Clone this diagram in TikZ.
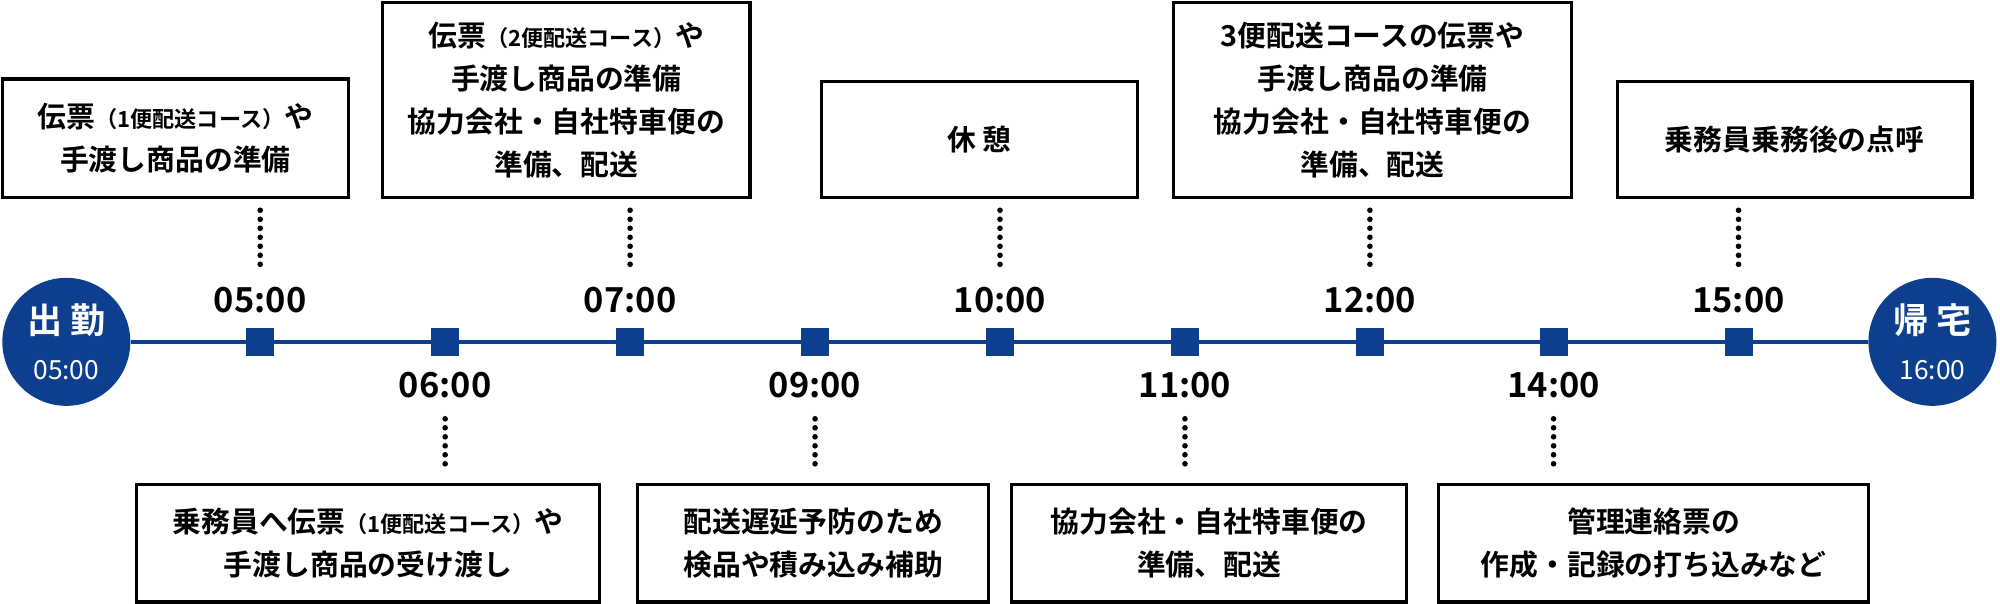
\documentclass[tikz,border=0pt]{standalone}
\usepackage{fontspec}
\setmainfont{Noto Sans CJK JP}[BoldFont={* Bold}]
\usetikzlibrary{positioning}
\definecolor{navy}{HTML}{0E3F8F}
\newcommand{\sm}[1]{{\fontsize{6.3pt}{8pt}\selectfont #1}}

\begin{document}
\begin{tikzpicture}[
    x=0.012755cm, y=-0.012755cm,
    stepbox/.style={rectangle, draw=black, line width=0.9pt, inner sep=0pt, align=center,
        font=\fontsize{8.2pt}{12.2pt}\selectfont\bfseries},
    tick/.style={rectangle, fill=navy, minimum size=0.28cm, inner sep=0pt},
    hour/.style={font=\fontsize{9.8pt}{11pt}\selectfont\bfseries, inner sep=0pt},
    ends/.style={circle, fill=navy, minimum size=1.28cm, inner sep=0pt, text=white, align=center},
    dots/.style={line width=1.6pt, line cap=round, dash pattern=on 0pt off 0.09cm}
]
    \useasboundingbox (0,0) rectangle (1568,473.5);

    % timeline
    \node[ends] (start) at (52,268) {{\fontsize{10pt}{12pt}\selectfont\bfseries 出 勤}\\[1pt]{\fontsize{7.5pt}{9pt}\selectfont 05:00}};
    \node[ends] (end) at (1515,268) {{\fontsize{10pt}{12pt}\selectfont\bfseries 帰 宅}\\[1pt]{\fontsize{7.5pt}{9pt}\selectfont 16:00}};
    \draw[navy, line width=1.3pt] (start) -- (end);
    \foreach \x/\n in {204/t1,349/t2,494/t3,639/t4,784/t5,929/t6,1074/t7,1218/t8,1363/t9}
        \node[tick] (\n) at (\x,268) {};

    % hours above
    \node[hour] (h1) at (204,235) {05:00};
    \node[hour] (h3) at (494,235) {07:00};
    \node[hour] (h5) at (784,235) {10:00};
    \node[hour] (h7) at (1074,235) {12:00};
    \node[hour] (h9) at (1363,235) {15:00};
    % hours below
    \node[hour] (h2) at (349,302) {06:00};
    \node[hour] (h4) at (639,302) {09:00};
    \node[hour] (h6) at (929,302) {11:00};
    \node[hour] (h8) at (1218,302) {14:00};

    % upper boxes
    \node[stepbox, minimum width=271*0.012755cm, minimum height=93*0.012755cm] (b1) at (137.5,108.5)
        {伝票\sm{（1便配送コース）}や\\手渡し商品の準備};
    \node[stepbox, minimum width=288*0.012755cm, minimum height=153*0.012755cm] (b3) at (444,78.5)
        {伝票\sm{（2便配送コース）}や\\手渡し商品の準備\\協力会社・自社特車便の\\準備、配送};
    \node[stepbox, minimum width=248*0.012755cm, minimum height=91*0.012755cm] (b5) at (768,109.5)
        {休 憩};
    \node[stepbox, minimum width=312*0.012755cm, minimum height=153*0.012755cm] (b7) at (1076,78.5)
        {3便配送コースの伝票や\\手渡し商品の準備\\協力会社・自社特車便の\\準備、配送};
    \node[stepbox, minimum width=278*0.012755cm, minimum height=91*0.012755cm] (b9) at (1407,109.5)
        {乗務員乗務後の点呼};

    % lower boxes
    \node[stepbox, minimum width=363*0.012755cm, minimum height=92*0.012755cm] (b2) at (288.5,426)
        {乗務員へ伝票\sm{（1便配送コース）}や\\手渡し商品の受け渡し};
    \node[stepbox, minimum width=275*0.012755cm, minimum height=92*0.012755cm] (b4) at (637.5,426)
        {配送遅延予防のため\\検品や積み込み補助};
    \node[stepbox, minimum width=310*0.012755cm, minimum height=92*0.012755cm] (b6) at (948,426)
        {協力会社・自社特車便の\\準備、配送};
    \node[stepbox, minimum width=337*0.012755cm, minimum height=92*0.012755cm] (b8) at (1296.5,426)
        {管理連絡票の\\作成・記録の打ち込みなど};

    % dotted leaders
    \foreach \b/\h in {b1/h1,b3/h3,b5/h5,b7/h7,b9/h9}
        \draw[dots] ([yshift=-0.11cm]\b.south -| \h) -- ([yshift=0.2cm]\h.north);
    \foreach \b/\h in {b2/h2,b4/h4,b6/h6,b8/h8}
        \draw[dots] ([yshift=-0.2cm]\h.south) -- ([yshift=0.11cm]\b.north -| \h);
\end{tikzpicture}
\end{document}
